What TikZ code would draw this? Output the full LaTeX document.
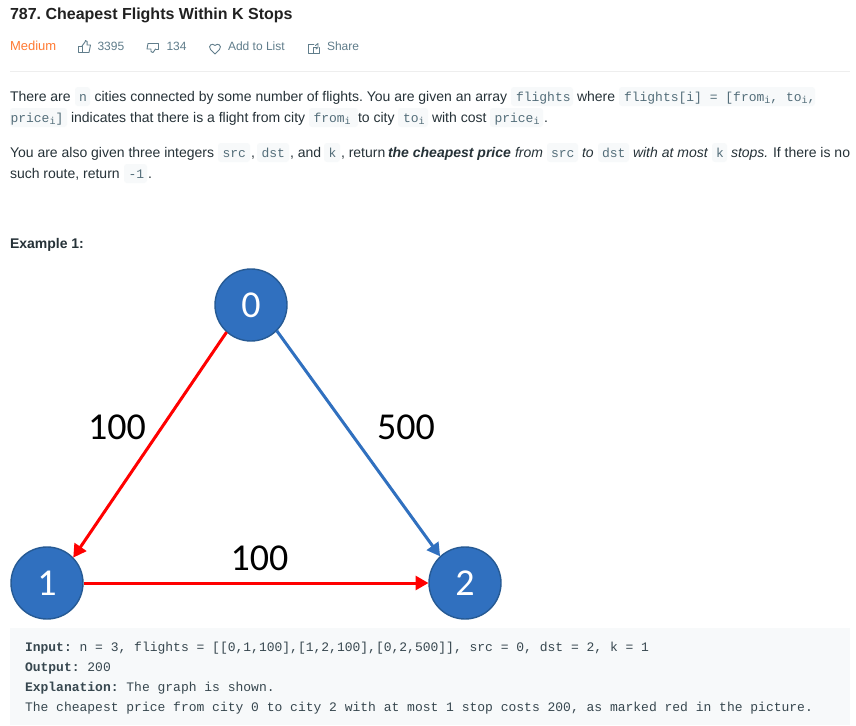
\documentclass[tikz,border=0pt]{standalone}
\usepackage{fontspec}
\usetikzlibrary{arrows.meta}
\setmainfont{Liberation Sans}
\setmonofont{Liberation Mono}
\newfontfamily\graphfont{Carlito}
\frenchspacing
\definecolor{ink}{HTML}{263238}
\definecolor{codeink}{HTML}{546E7A}
\definecolor{codebg}{HTML}{F7F9FA}
\definecolor{rule}{HTML}{EEEEEE}
\definecolor{orangetxt}{HTML}{FF7A33}
\definecolor{action}{HTML}{607D8B}
\definecolor{nodefill}{HTML}{3070BF}
\definecolor{nodeedge}{HTML}{265A94}
\definecolor{preink}{HTML}{37474F}
\newcommand{\isub}{\raisebox{-2.5pt}{\fontsize{10}{10}\selectfont i}}
\tikzset{
  body/.style={anchor=base west,inner sep=0pt,outer sep=0pt,text=ink,font=\fontsize{14}{14}\selectfont},
  codetxt/.style={anchor=base west,inner sep=0pt,outer sep=0pt,text=codeink,font=\ttfamily\fontsize{13}{13}\selectfont},
  pretxt/.style={anchor=base west,inner sep=0pt,outer sep=0pt,text=preink,font=\ttfamily\fontsize{13}{13}\selectfont},
  codebox/.style={fill=codebg,rounded corners=3pt,draw=none},
  meta/.style={anchor=base west,inner sep=0pt,outer sep=0pt,text=action,font=\fontsize{12}{12}\selectfont},
  icon/.style={draw=action,line width=0.9pt,line join=round,line cap=round},
  city/.style={circle,minimum size=72pt,inner sep=0pt,outer sep=0.5pt,fill=nodefill,draw=nodeedge,line width=1.4pt,text=white,font=\graphfont\fontsize{38}{38}\selectfont},
  weight/.style={inner sep=0pt,text=black,font=\graphfont\fontsize{38}{38}\selectfont},
  flightred/.style={draw=red,line width=3pt,-{Triangle[length=13pt,width=14pt]}},
  flightblue/.style={draw=nodefill,line width=3pt,-{Triangle[length=13pt,width=14pt]}},
}
\begin{document}
\begin{tikzpicture}[x=1pt,y=-1pt]
\useasboundingbox (0,0) rectangle (856,725);
\fill[white] (0,0) rectangle (856,725);
% header
\node[body,text=black!87,font=\bfseries\fontsize{16}{16}\selectfont] (title) at (10,20) {787. Cheapest Flights Within K Stops};
\node[meta,text=orangetxt,font=\fontsize{13}{13}\selectfont] (medium) at (10,51) {Medium};
\node[meta] (likes) at (97.5,51) {3395};
\node[meta] (dislikes) at (166.5,51) {134};
\node[meta] (addlist) at (228,51) {Add to List};
\node[meta] (share) at (327,51) {Share};
% thumbs up
\draw[icon] (78.5,46) rectangle (82,52.5);
\draw[icon] (82,46) -- (85,42) -- (85.5,40.5) .. controls (87.5,40.5) and (87.5,42) .. (87,45) -- (90.5,45) -- (89,52.5) -- (82,52.5);
% thumbs down
\draw[icon] (155.5,43.5) -- (158.5,43.5) -- (158.5,49) -- (155.5,49);
\draw[icon] (155.5,43.5) -- (148,43.5) -- (147,49) -- (151,49) .. controls (150.5,51) and (151,53) .. (153,52.5) -- (155.5,49);
% heart
\draw[icon] (215,54) -- (210.5,49.5) .. controls (207.5,45.5) and (212.5,42.5) .. (215,45.5) .. controls (217.5,42.5) and (222.5,45.5) .. (219.5,49.5) -- cycle;
% share
\draw[icon] (314,44.5) -- (308.5,44.5) -- (308.5,53.5) -- (319.5,53.5) -- (319.5,47.5);
\draw[icon] (313.5,53.5) -- (313.5,47.5) -- (317,47.5);
\draw[icon] (315.5,45.5) -- (318,43.5) -- (318,47.5) -- (316,49);
\draw[rule,line width=1pt] (10,71) -- (850,71);
% line 1
\fill[codebox] (75,87) rectangle (90,106);
\fill[codebox] (511,87) rectangle (573,106);
\fill[codebox] (619,87) rectangle (815,106);
\node[body] (a1) at (10,101) {There are};
\node[codetxt] (a2) at (79,101) {n};
\node[body] (a3) at (94.5,101) {cities connected by some number of flights. You are given an array};
\node[codetxt] (a4) at (516,101) {flights};
\node[body] (a5) at (577,101) {where};
\node[codetxt] (a6) at (624,101) {flights[i] = [from\isub, to\isub,};
% line 2
\fill[codebox] (10,108) rectangle (67,127);
\fill[codebox] (309,108) rectangle (358,127);
\fill[codebox] (398,108) rectangle (428,127);
\fill[codebox] (490,108) rectangle (543,127);
\node[codetxt] (b1) at (10.5,122) {price\isub]};
\node[body] (b2) at (71,122) {indicates that there is a flight from city};
\node[codetxt] (b3) at (313.5,122) {from\isub};
\node[body] (b4) at (358,122) {to city};
\node[codetxt] (b5) at (403,122) {to\isub};
\node[body] (b6) at (432,122) {with cost};
\node[codetxt] (b7) at (494.5,122) {price\isub};
\node[body] (b8) at (544,122) {.};
% line 3
\fill[codebox] (218,143) rectangle (250,162);
\fill[codebox] (257,143) rectangle (289,162);
\fill[codebox] (324,143) rectangle (340,162);
\fill[codebox] (547,143) rectangle (578,162);
\fill[codebox] (598,143) rectangle (629,162);
\fill[codebox] (712,143) rectangle (727,162);
\node[body] (c1) at (10,157) {You are also given three integers};
\node[codetxt] (c2) at (222.5,157) {src};
\node[body] (c3) at (251,157) {,};
\node[codetxt] (c4) at (261.5,157) {dst};
\node[body] (c5) at (290,157) {, and};
\node[codetxt] (c6) at (328.5,157) {k};
\node[body] (c7) at (341,157) {, return};
\node[body,font=\bfseries\itshape\fontsize{14}{14}\selectfont] (c8) at (388,157) {the cheapest price};
\node[body,font=\itshape\fontsize{14}{14}\selectfont] (c9) at (515,157) {from};
\node[codetxt] (c10) at (551,157) {src};
\node[body,font=\itshape\fontsize{14}{14}\selectfont] (c11) at (582,157) {to};
\node[codetxt] (c12) at (602,157) {dst};
\node[body,font=\itshape\fontsize{14}{14}\selectfont] (c13) at (633,157) {with at most};
\node[codetxt] (c14) at (716,157) {k};
\node[body,font=\itshape\fontsize{14}{14}\selectfont] (c15) at (731,157) {stops.};
\node[body] (c16) at (773,157) {If there is no};
% line 4
\fill[codebox] (124,164) rectangle (147,183);
\node[body] (d1) at (10,178) {such route, return};
\node[codetxt] (d2) at (128.5,178) {-1};
\node[body] (d3) at (148,178) {.};
\node[body,font=\bfseries\fontsize{14}{14}\selectfont] (ex) at (10,248) {Example 1:};
% graph
\node[city] (n0) at (251,305) {0};
\node[city] (n1) at (47,583) {1};
\node[city] (n2) at (465,583) {2};
\draw[flightred] (n0.228) -- (n1.44);
\draw[flightblue] (n0.-45) -- (n2.133);
\draw[flightred] (n1) -- (n2);
\node[weight] (w1) at (117,427) {100};
\node[weight] (w2) at (406,427) {500};
\node[weight] (w3) at (259.5,558) {100};
% example block
\fill[codebg] (10,628) rectangle (850,725);
\node[pretxt,font=\ttfamily\bfseries\fontsize{13}{13}\selectfont] (e1) at (25,651) {Input:};
\node[pretxt] (e2) at (79.6,651) {n = 3, flights = [[0,1,100],[1,2,100],[0,2,500]], src = 0, dst = 2, k = 1};
\node[pretxt,font=\ttfamily\bfseries\fontsize{13}{13}\selectfont] (e3) at (25,671) {Output:};
\node[pretxt] (e4) at (87.4,671) {200};
\node[pretxt,font=\ttfamily\bfseries\fontsize{13}{13}\selectfont] (e5) at (25,691) {Explanation:};
\node[pretxt] (e6) at (126.4,691) {The graph is shown.};
\node[pretxt] (e7) at (25,711) {The cheapest price from city 0 to city 2 with at most 1 stop costs 200, as marked red in the picture.};
\end{tikzpicture}
\end{document}
